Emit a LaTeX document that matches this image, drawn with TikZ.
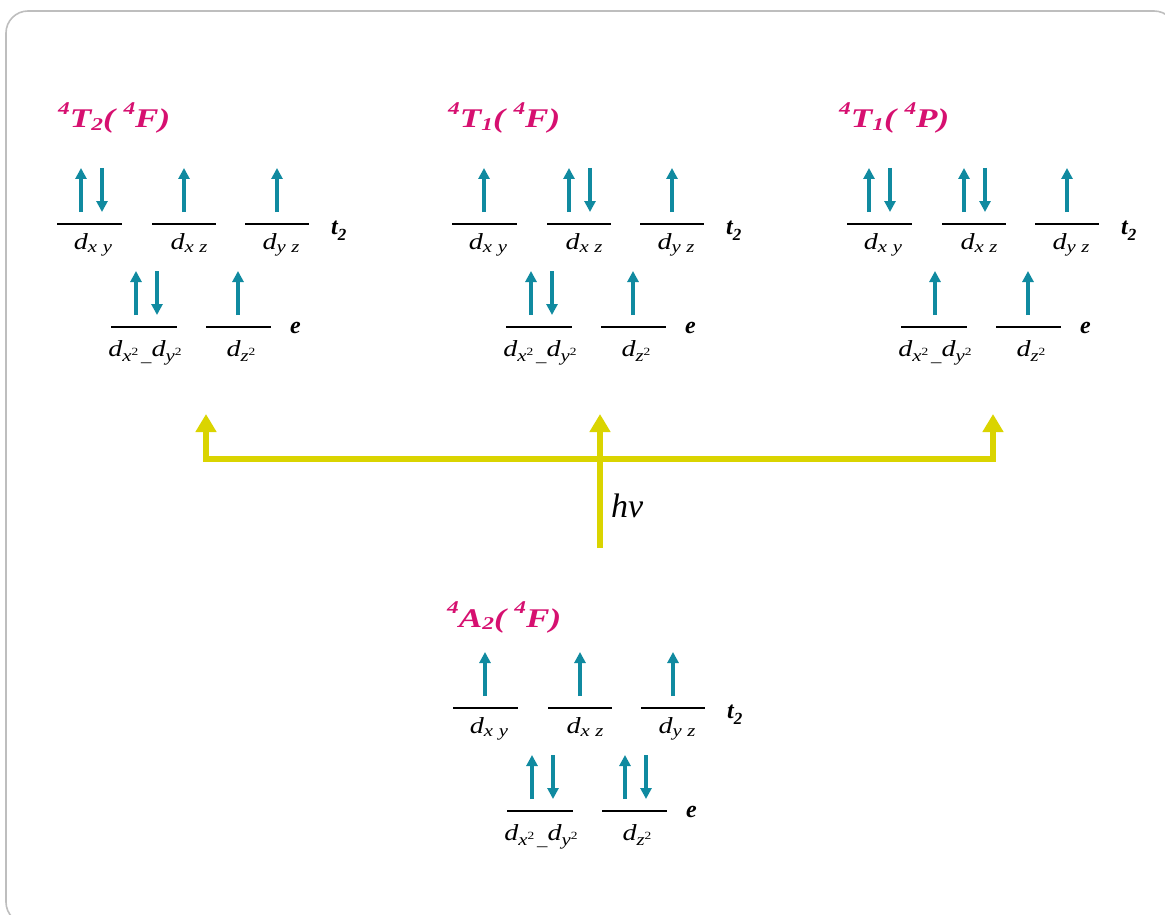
\documentclass[tikz,border=0pt]{standalone}
\usepackage{fontspec}
\setmainfont{Liberation Serif}
\newfontfamily\widefont[FakeStretch=1.22]{Liberation Serif}
\newfontfamily\titlefont[FakeStretch=1.3]{Liberation Serif}
\usetikzlibrary{arrows.meta}
\definecolor{mag}{RGB}{214,16,112}
\definecolor{spincol}{RGB}{16,138,160}
\definecolor{yel}{RGB}{218,212,0}
\definecolor{framecol}{RGB}{190,190,190}
\tikzset{
  levelline/.style={line width=2.4pt, black},
  spin/.style={line width=3.2pt, spincol, -{Triangle[width=11pt,length=11pt]}},
  hvarrow/.style={line width=6pt, yel, line join=miter, -{Triangle[width=20pt,length=18pt]}},
  orblabel/.style={anchor=base, inner sep=0pt, font=\widefont\fontsize{23}{23}\selectfont\itshape},
  setlabel/.style={anchor=base west, inner sep=0pt, font=\fontsize{24}{24}\selectfont\bfseries\itshape},
  statetitle/.style={anchor=base west, inner sep=0pt, text=mag, font=\titlefont\fontsize{27}{27}\selectfont\bfseries\itshape},
}
\newcommand\osub[1]{\raisebox{-0.15em}{\fontsize{17}{17}\selectfont #1}}
\newcommand\esub[1]{\raisebox{-0.25em}{\fontsize{17}{17}\selectfont #1}}
\newcommand\sq{\raisebox{0.38em}{\upshape\fontsize{11}{11}\selectfont 2}}
\newcommand\tsub[1]{\raisebox{-0.08em}{\fontsize{18}{18}\selectfont #1}}
\newcommand\tsup[1]{\raisebox{0.5em}{\fontsize{18}{18}\selectfont #1}}
\newcommand\lsub[1]{\raisebox{-0.25em}{\fontsize{17}{17}\selectfont #1}}
% orbital set: #1 prefix, #2 x shift, #3 y shift
\newcommand\orbset[3]{%
  \begin{scope}[shift={(#2,#3)}]
    \draw[levelline] (57,224) -- (122,224);
    \draw[levelline] (152,224) -- (216,224);
    \draw[levelline] (245,224) -- (309,224);
    \draw[levelline] (111,327) -- (177,327);
    \draw[levelline] (206,327) -- (271,327);
    \node[orblabel] (#1xy) at (93,249) {d\osub{x\,\,y}};
    \node[orblabel] (#1xz) at (189,249) {d\osub{x\,\,z}};
    \node[orblabel] (#1yz) at (281,249) {d\osub{y\,\,z}};
    \node[orblabel] (#1xx) at (145,356) {d\esub{x\sq\,\_}d\esub{y\sq}};
    \node[orblabel] (#1zz) at (241,356) {d\esub{z\sq}};
    \node[setlabel] (#1t) at (331,234) {t\lsub{2}};
    \node[setlabel] (#1e) at (290,333) {e};
  \end{scope}}
\begin{document}
\begin{tikzpicture}[x=1pt,y=-1pt]
\useasboundingbox (0,0) rectangle (1165,915);
\draw[framecol, line width=1.6pt, rounded corners=22pt] (6,11) rectangle (1176,924);

% ---- group 1: 4T2(4F)
\node[statetitle] (g1title) at (58,128) {\tsup{4}T\tsub{2}( \tsup{4}F)};
\orbset{a}{0}{0}
\begin{scope}
  \draw[spin] (81,212) -- (81,168);
  \draw[spin] (102,168) -- (102,212);
  \draw[spin] (184,212) -- (184,168);
  \draw[spin] (277,212) -- (277,168);
  \draw[spin] (136,315) -- (136,271);
  \draw[spin] (157,271) -- (157,315);
  \draw[spin] (238,315) -- (238,271);
\end{scope}

% ---- group 2: 4T1(4F)
\node[statetitle] (g2title) at (448,128) {\tsup{4}T\tsub{1}( \tsup{4}F)};
\orbset{b}{395}{0}
\begin{scope}[shift={(395,0)}]
  \draw[spin] (89,212) -- (89,168);
  \draw[spin] (174,212) -- (174,168);
  \draw[spin] (195,168) -- (195,212);
  \draw[spin] (277,212) -- (277,168);
  \draw[spin] (136,315) -- (136,271);
  \draw[spin] (157,271) -- (157,315);
  \draw[spin] (238,315) -- (238,271);
\end{scope}

% ---- group 3: 4T1(4P)
\node[statetitle] (g3title) at (839,128) {\tsup{4}T\tsub{1}( \tsup{4}P)};
\orbset{c}{790}{0}
\begin{scope}[shift={(790,0)}]
  \draw[spin] (79,212) -- (79,168);
  \draw[spin] (100,168) -- (100,212);
  \draw[spin] (174,212) -- (174,168);
  \draw[spin] (195,168) -- (195,212);
  \draw[spin] (277,212) -- (277,168);
  \draw[spin] (145,315) -- (145,271);
  \draw[spin] (238,315) -- (238,271);
\end{scope}

% ---- group 4: 4A2(4F)
\node[statetitle] (g4title) at (447,627) {\tsup{4}A\tsub{2}( \tsup{4}F)};
\orbset{d}{396}{484}
\begin{scope}[shift={(396,484)}]
  \draw[spin] (89,212) -- (89,168);
  \draw[spin] (184,212) -- (184,168);
  \draw[spin] (277,212) -- (277,168);
  \draw[spin] (136,315) -- (136,271);
  \draw[spin] (157,271) -- (157,315);
  \draw[spin] (229,315) -- (229,271);
  \draw[spin] (250,271) -- (250,315);
\end{scope}

% ---- excitation arrows
\coordinate (src) at (600,548);
\coordinate (junc) at (600,459);
\coordinate (cL) at (206,459);
\coordinate (cR) at (993,459);
\coordinate (tL) at (206,414);
\coordinate (tM) at (600,414);
\coordinate (tR) at (993,414);
\draw[hvarrow] (junc) -- (cL) -- (tL);
\draw[hvarrow] (junc) -- (cR) -- (tR);
\draw[hvarrow] (src) -- (tM);
\node[anchor=base west, inner sep=0pt, font=\fontsize{34}{34}\selectfont\itshape] (hv) at (611,517) {hν};
\end{tikzpicture}
\end{document}
